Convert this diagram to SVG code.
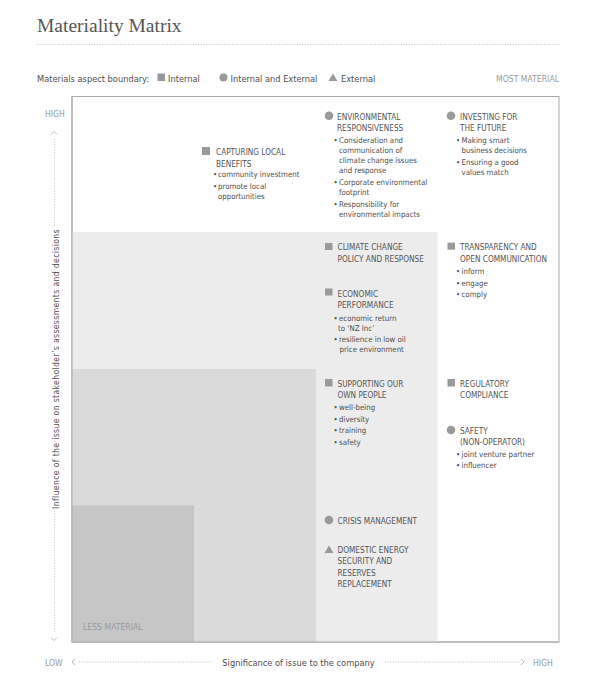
<svg xmlns="http://www.w3.org/2000/svg" width="600" height="694" viewBox="0 0 600 694">
<style>
.t{font-family:"Liberation Sans Narrow","DejaVu Sans Condensed","Liberation Sans",sans-serif;fill:#4e4e4e}
.h{font-size:8.2px;fill:#555}
.b{font-size:7.8px;fill:#4e4e4e}
.lg{font-size:9.2px;fill:#4e4e4e}
.ax{font-size:8.6px;fill:#9a9a9a}
.mk{fill:#9a9a9a}
.dot{stroke:#c4c4c4;stroke-width:1;stroke-dasharray:1 1.6;fill:none}
.chev{stroke:#aaa;stroke-width:0.8;fill:none}
</style>
<rect width="600" height="694" fill="#fff"/>
<text x="37" y="32" font-family="'Liberation Serif',serif" font-size="19.5" fill="#555">Materiality Matrix</text>
<line class="dot" x1="37" y1="44.5" x2="560" y2="44.5"/>
<g id="legend">
<text class="t lg" x="37" y="81.5">Materials aspect boundary:</text>
<rect class="mk" x="157.5" y="73.5" width="7.5" height="7.5"/>
<text class="t lg" x="168" y="81.5">Internal</text>
<circle class="mk" cx="223.5" cy="77.5" r="4"/>
<text class="t lg" x="230.5" y="81.5">Internal and External</text>
<polygon class="mk" points="333,73.5 337.5,81 328.5,81"/>
<text class="t lg" x="341" y="81.5">External</text>
<text class="t ax" x="559" y="81.5" text-anchor="end">MOST MATERIAL</text>
</g>
<g id="matrix">
<rect x="72" y="96.5" width="487" height="545.5" fill="#fff" stroke="#a8a8a8" stroke-width="1"/>
<rect x="72" y="232" width="365.5" height="410" fill="#ececec"/>
<rect x="72" y="369" width="244" height="273" fill="#dadada"/>
<rect x="72" y="505.5" width="122" height="136.5" fill="#c6c6c6"/>
<line x1="72" y1="96.5" x2="72" y2="642" stroke="#a8a8a8"/>
<line x1="72" y1="642" x2="559" y2="642" stroke="#a8a8a8"/>
<text class="t ax" x="83" y="629.5">LESS MATERIAL</text>
</g>
<g id="axes">
<text class="t ax" x="45" y="117">HIGH</text>
<polyline class="chev" points="51,134.5 54,131.5 57,134.5"/>
<line class="dot" x1="54.5" y1="139" x2="54.5" y2="227"/>
<text class="t" x="59" y="369" font-size="8.6" fill="#555" letter-spacing="0.35" text-anchor="middle" transform="rotate(-90 59 369)">Influence of the issue on stakeholder’s assessments and decisions</text>
<line class="dot" x1="54.5" y1="511" x2="54.5" y2="633"/>
<polyline class="chev" points="51,637.5 54,640.5 57,637.5"/>
<text class="t ax" x="45" y="665.5">LOW</text>
<polyline class="chev" points="75,659 72,662 75,665"/>
<line class="dot" x1="79" y1="662" x2="212" y2="662"/>
<text class="t lg" x="298.5" y="665.5" text-anchor="middle">Significance of issue to the company</text>
<line class="dot" x1="385" y1="662" x2="519" y2="662"/>
<polyline class="chev" points="521,659 524,662 521,665"/>
<text class="t ax" x="533" y="665.5">HIGH</text>
</g>
<g id="capturing-local-benefits">
<rect class="mk" x="202" y="147" width="8" height="8"/>
<text class="t h" x="216" y="155">CAPTURING LOCAL</text>
<text class="t h" x="216" y="166.5">BENEFITS</text>
<text class="t b" x="213" y="177">•</text><text class="t b" x="218" y="177">community investment</text>
<text class="t b" x="213" y="188.5">•</text><text class="t b" x="218" y="188.5">promote local</text>
<text class="t b" x="218" y="198.5">opportunities</text>
</g>
<g id="environmental-responsiveness">
<circle class="mk" cx="329" cy="115.7" r="4.3"/>
<text class="t h" x="337" y="119.5">ENVIRONMENTAL</text>
<text class="t h" x="337" y="131">RESPONSIVENESS</text>
<text class="t b" x="333.5" y="142.5">•</text><text class="t b" x="339" y="142.5">Consideration and</text>
<text class="t b" x="339" y="152.5">communication of</text>
<text class="t b" x="339" y="163">climate change issues</text>
<text class="t b" x="339" y="172.5">and response</text>
<text class="t b" x="333.5" y="185">•</text><text class="t b" x="339" y="185">Corporate environmental</text>
<text class="t b" x="339" y="194.5">footprint</text>
<text class="t b" x="333.5" y="206.5">•</text><text class="t b" x="339" y="206.5">Responsibility for</text>
<text class="t b" x="339" y="216.5">environmental impacts</text>
</g>
<g id="investing-for-the-future">
<circle class="mk" cx="451" cy="115.7" r="4.3"/>
<text class="t h" x="460" y="119.5">INVESTING FOR</text>
<text class="t h" x="460" y="131">THE FUTURE</text>
<text class="t b" x="456" y="142.5">•</text><text class="t b" x="461.5" y="142.5">Making smart</text>
<text class="t b" x="461.5" y="152.5">business decisions</text>
<text class="t b" x="456" y="164.5">•</text><text class="t b" x="461.5" y="164.5">Ensuring a good</text>
<text class="t b" x="461.5" y="174.5">values match</text>
</g>
<g id="climate-change-policy">
<rect class="mk" x="325" y="243" width="7.5" height="7"/>
<text class="t h" x="337.5" y="250">CLIMATE CHANGE</text>
<text class="t h" x="337.5" y="261.5">POLICY AND RESPONSE</text>
</g>
<g id="economic-performance">
<rect class="mk" x="325" y="288.5" width="7.5" height="7"/>
<text class="t h" x="337.5" y="296.5">ECONOMIC</text>
<text class="t h" x="337.5" y="308">PERFORMANCE</text>
<text class="t b" x="333.5" y="320.5">•</text><text class="t b" x="339" y="320.5">economic return</text>
<text class="t b" x="338" y="330.5">to ‘NZ Inc’</text>
<text class="t b" x="333.5" y="342">•</text><text class="t b" x="339" y="342">resilience in low oil</text>
<text class="t b" x="339.5" y="352">price environment</text>
</g>
<g id="transparency">
<rect class="mk" x="447.5" y="242.7" width="7.5" height="7"/>
<text class="t h" x="460" y="250">TRANSPARENCY AND</text>
<text class="t h" x="460" y="261.5">OPEN COMMUNICATION</text>
<text class="t b" x="456" y="274">•</text><text class="t b" x="461.5" y="274">inform</text>
<text class="t b" x="456" y="285.5">•</text><text class="t b" x="461.5" y="285.5">engage</text>
<text class="t b" x="456" y="297">•</text><text class="t b" x="461.5" y="297">comply</text>
</g>
<g id="supporting-our-own-people">
<rect class="mk" x="325" y="379" width="7.5" height="7.5"/>
<text class="t h" x="337.5" y="386.5">SUPPORTING OUR</text>
<text class="t h" x="337.5" y="398">OWN PEOPLE</text>
<text class="t b" x="333.5" y="410">•</text><text class="t b" x="339" y="410">well-being</text>
<text class="t b" x="333.5" y="421.5">•</text><text class="t b" x="339" y="421.5">diversity</text>
<text class="t b" x="333.5" y="433">•</text><text class="t b" x="339" y="433">training</text>
<text class="t b" x="333.5" y="444.5">•</text><text class="t b" x="339" y="444.5">safety</text>
</g>
<g id="regulatory-compliance">
<rect class="mk" x="447.5" y="379" width="7.5" height="7.5"/>
<text class="t h" x="460" y="386.5">REGULATORY</text>
<text class="t h" x="460" y="398">COMPLIANCE</text>
</g>
<g id="safety-non-operator">
<circle class="mk" cx="451" cy="430" r="4.3"/>
<text class="t h" x="460" y="433.5">SAFETY</text>
<text class="t h" x="460" y="445">(NON-OPERATOR)</text>
<text class="t b" x="456" y="456.5">•</text><text class="t b" x="461.5" y="456.5">joint venture partner</text>
<text class="t b" x="456" y="468">•</text><text class="t b" x="461.5" y="468">influencer</text>
</g>
<g id="crisis-management">
<circle class="mk" cx="329" cy="520" r="4.3"/>
<text class="t h" x="337.5" y="523.5">CRISIS MANAGEMENT</text>
</g>
<g id="domestic-energy-security">
<polygon class="mk" points="329,545.5 333.5,553 324.5,553"/>
<text class="t h" x="337.5" y="552.5">DOMESTIC ENERGY</text>
<text class="t h" x="337.5" y="564">SECURITY AND</text>
<text class="t h" x="337.5" y="575.5">RESERVES</text>
<text class="t h" x="337.5" y="587">REPLACEMENT</text>
</g>
<g id="connectors"></g>
</svg>
